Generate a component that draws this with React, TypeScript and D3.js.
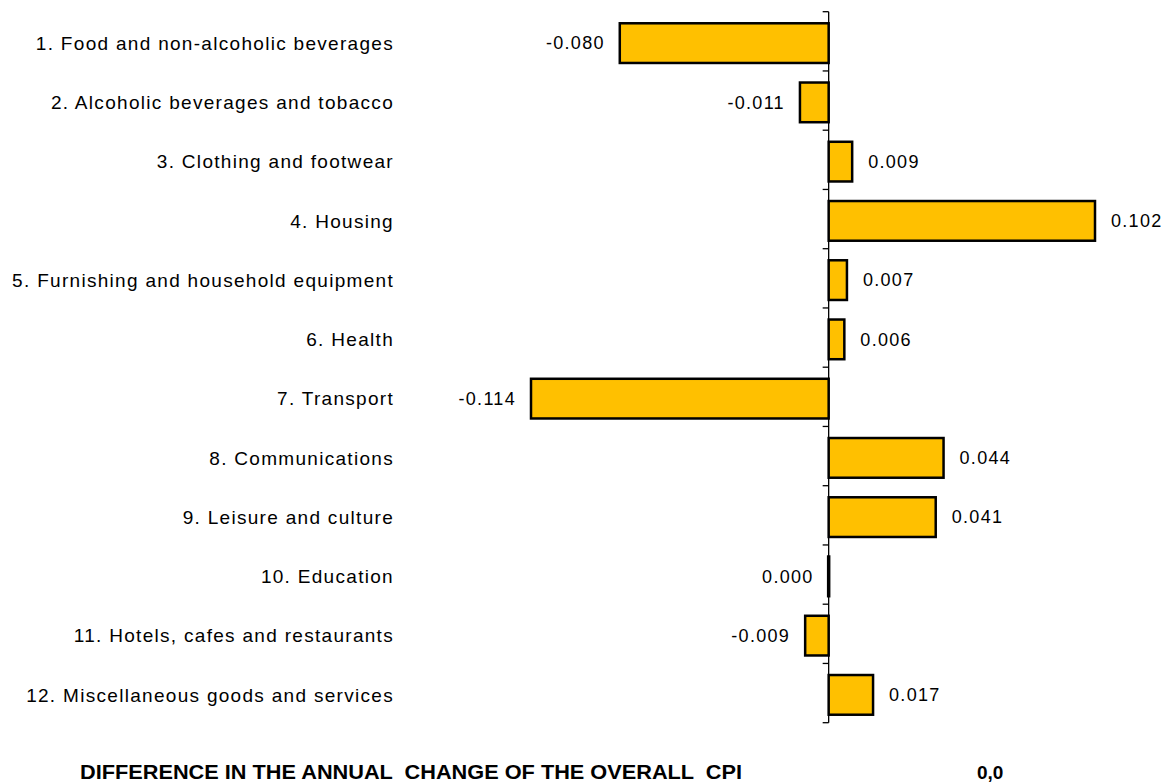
import { type FC, useEffect, useRef } from 'react';
import * as d3 from 'd3';

const categories = [
  '1. Food and non-alcoholic beverages',
  '2. Alcoholic beverages and tobacco',
  '3. Clothing and footwear',
  '4. Housing',
  '5. Furnishing and household equipment',
  '6. Health',
  '7. Transport',
  '8. Communications',
  '9. Leisure and culture',
  '10. Education',
  '11. Hotels, cafes and restaurants',
  '12. Miscellaneous goods and services',
];
const values = [-0.08, -0.011, 0.009, 0.102, 0.007, 0.006, -0.114, 0.044, 0.041, 0.0, -0.009, 0.017];
const footerLabel = 'DIFFERENCE IN THE ANNUAL  CHANGE OF THE OVERALL  CPI';
const footerValue = '0,0';

const width = 1170;
const height = 782;
const barColor = '#ffc000';
const font = 'Arial, "Liberation Sans", sans-serif';

const App: FC = () => {
  const ref = useRef<SVGSVGElement>(null);

  useEffect(() => {
    const { current: dom } = ref;
    if (!dom) return;
    const svg = d3.select(dom);
    svg.selectAll('*').remove();

    // x 比例尺
    const xScale = d3.scaleLinear().domain([-0.114, 0.102]).range([531, 1095]);
    // 刻度所在的分类带
    const bandScale = d3
      .scaleBand<number>()
      .domain(d3.range(categories.length))
      .range([11.7, 722.7]);
    // 柱子略微向下偏
    const yScale = d3
      .scaleBand<number>()
      .domain(d3.range(categories.length))
      .range([13.5, 724.5])
      .paddingInner(0.33)
      .paddingOuter(0.165);
    const x0 = xScale(0);
    const fmt = (d: number) => d3.format('.3f')(d).replace('−', '-');

    // 轴线 + 刻度
    const tickYs = [...bandScale.domain().map((i) => bandScale(i)!), 722.7];
    svg
      .append('line')
      .attr('x1', x0)
      .attr('x2', x0)
      .attr('y1', 11.7)
      .attr('y2', 722.7)
      .attr('stroke', '#000')
      .attr('stroke-width', 1.3);
    svg
      .selectAll('.tick')
      .data(tickYs)
      .join('line')
      .attr('class', 'tick')
      .attr('x1', x0 - 6)
      .attr('x2', x0)
      .attr('y1', (d) => d)
      .attr('y2', (d) => d)
      .attr('stroke', '#000')
      .attr('stroke-width', 1.3);

    // 柱子
    svg
      .selectAll('.bar')
      .data(values)
      .join('rect')
      .attr('class', 'bar')
      .attr('x', (d) => Math.min(xScale(d), x0) - (d === 0 ? 0.5 : 0))
      .attr('y', (_, i) => yScale(i)!)
      .attr('width', (d) => Math.max(Math.abs(xScale(d) - x0), 1))
      .attr('height', yScale.bandwidth())
      .attr('fill', barColor)
      .attr('stroke', '#000')
      .attr('stroke-width', 2.5);

    // 分类标签
    svg
      .selectAll('.cat')
      .data(categories)
      .join('text')
      .attr('class', 'cat')
      .attr('x', 394)
      .attr('y', (_, i) => yScale(i)! + yScale.bandwidth() / 2)
      .attr('dy', '0.35em')
      .attr('text-anchor', 'end')
      .attr('font-family', font)
      .attr('font-size', 19)
      .attr('letter-spacing', 1.3)
      .text((d) => d);

    // 数值标签
    svg
      .selectAll('.val')
      .data(values)
      .join('text')
      .attr('class', 'val')
      .attr('x', (d) => (d > 0 ? xScale(d) + 16 : Math.min(xScale(d), x0) - 15))
      .attr('y', (_, i) => yScale(i)! + yScale.bandwidth() / 2)
      .attr('dy', '0.35em')
      .attr('text-anchor', (d) => (d > 0 ? 'start' : 'end'))
      .attr('font-family', font)
      .attr('font-size', 18)
      .attr('letter-spacing', 1.3)
      .text((d) => fmt(d));

    // 底部文字
    svg
      .append('text')
      .attr('x', 80)
      .attr('y', 779)
      .attr('font-family', font)
      .attr('font-size', 21)
      .attr('font-weight', 'bold')
      .attr('textLength', 662)
      .attr('lengthAdjust', 'spacingAndGlyphs')
      .style('white-space', 'pre')
      .text(footerLabel);
    svg
      .append('text')
      .attr('x', 977)
      .attr('y', 779)
      .attr('font-family', font)
      .attr('font-size', 19)
      .attr('font-weight', 'bold')
      .text(footerValue);
  }, []);

  return (
    <svg
      ref={ref}
      width={width}
      height={height}
      style={{ position: 'absolute', left: 0, top: 0, background: '#fff' }}
    />
  );
};

export default App;
